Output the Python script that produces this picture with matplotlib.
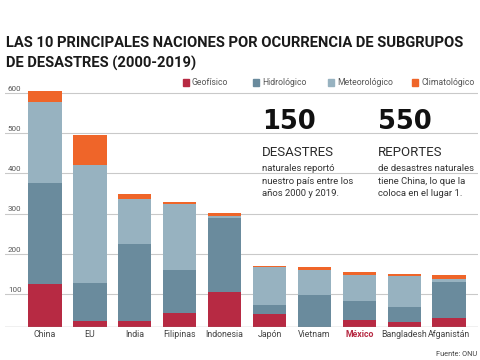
import numpy as np
import matplotlib
matplotlib.use("Agg")
import matplotlib.pyplot as plt
from matplotlib.transforms import blended_transform_factory

# Data (number of disasters, 2000-2019)
countries = ['China', 'EU', 'India', 'Filipinas', 'Indonesia',
             'Japón', 'Vietnam', 'México', 'Bangladesh', 'Afganistán']
geofisico = [125, 34, 34, 53, 106, 50, 18, 36, 30, 40]
hidrologico = [252, 95, 191, 107, 184, 23, 79, 47, 39, 90]
meteorologico = [201, 291, 112, 163, 5, 94, 64, 66, 76, 9]
climatologico = [26, 76, 12, 6, 7, 4, 6, 5, 5, 9]
yticks = [100, 200, 300, 400, 500, 600]

series = [('Geofísico', geofisico, '#b72a43'),
          ('Hidrológico', hidrologico, '#6a8b9d'),
          ('Meteorológico', meteorologico, '#97b2c0'),
          ('Climatológico', climatologico, '#ef6529')]

W, H = 480, 360
fam = 'Roboto'
fig = plt.figure(figsize=(4.8, 3.6), dpi=100)
fig.patch.set_facecolor('white')

def fx(px):
    return px / W

def fy(py):
    return 1 - py / H

def fit_width(txt, width_px):
    # shrink/grow a text so it spans the given width in pixels
    r = fig.canvas.get_renderer()
    w = txt.get_window_extent(renderer=r).width
    txt.set_fontsize(txt.get_fontsize() * width_px / w)

# axes placed in pixel terms
ax = fig.add_axes([fx(5), fy(326.5), fx(473), fy(84.7) - fy(326.5)])
ax.set_xlim(-0.891, 9.644)
ax.set_ylim(20, 620)
ax.axis('off')

# gridlines and tick labels
trans = blended_transform_factory(ax.transAxes, ax.transData)
for t in yticks:
    ax.axhline(t, color='#c9c9c9', lw=0.8, zorder=0)
    ax.text(0.006, t + 3, str(t), transform=trans, fontsize=5.8,
            color='#555555', family=fam, va='bottom', ha='left')
ax.axhline(20, color='#8a8a8a', lw=0.9, zorder=3)

x = np.arange(len(countries))
bottom = np.zeros(len(countries))
for name, vals, col in series:
    ax.bar(x, vals, bottom=bottom, width=0.74, color=col, zorder=2)
    bottom += np.array(vals)

for i, c in enumerate(countries):
    is_mx = c == 'México'
    ax.text(i, 12, c, ha='center', va='top', fontsize=6.3, family=fam,
            color='#b72a43' if is_mx else '#444444',
            fontweight='bold' if is_mx else 'normal')

# title
t1 = fig.text(fx(6), fy(47), 'LAS 10 PRINCIPALES NACIONES POR OCURRENCIA DE SUBGRUPOS',
              fontsize=11, fontweight='bold', family=fam, color='#1a1a1a')
fit_width(t1, 459)
fig.text(fx(6), fy(68), 'DE DESASTRES (2000-2019)',
         fontsize=t1.get_fontsize(), fontweight='bold', family=fam, color='#1a1a1a')

# legend
leg_x = [183, 253, 328, 412]
for (name, vals, col), lx in zip(series, leg_x):
    fig.patches.append(plt.Rectangle((fx(lx), fy(85.5)), fx(6), 6 / H,
                                     transform=fig.transFigure, color=col))
    fig.text(fx(lx + 9), fy(82.5), name, fontsize=6.2, family=fam,
             color='#555555', va='center')

# callouts
blocks = [(262, '150', 'DESASTRES',
           ['naturales reportó', 'nuestro país entre los', 'años 2000 y 2019.']),
          (378, '550', 'REPORTES',
           ['de desastres naturales', 'tiene China, lo que la', 'coloca en el lugar 1.'])]
word_size = None
for bx, num, word, lines in blocks:
    fig.text(fx(bx), fy(128.5), num, fontsize=18.5, fontweight='bold',
             family='DejaVu Sans', color='#111111')
    wt = fig.text(fx(bx), fy(155.5), word, fontsize=11, family=fam,
                  color='#2a2a2a')
    if word_size is None:
        fit_width(wt, 72)
        word_size = wt.get_fontsize()
    else:
        wt.set_fontsize(word_size)
    for k, ln in enumerate(lines):
        fig.text(fx(bx), fy(171 + 12.7 * k), ln, fontsize=6.8, family=fam,
                 color='#333333')

fig.text(fx(477), fy(356), 'Fuente: ONU', fontsize=5.3, family=fam,
         color='#444444', ha='right')

fig.savefig('out.png', dpi=100)
